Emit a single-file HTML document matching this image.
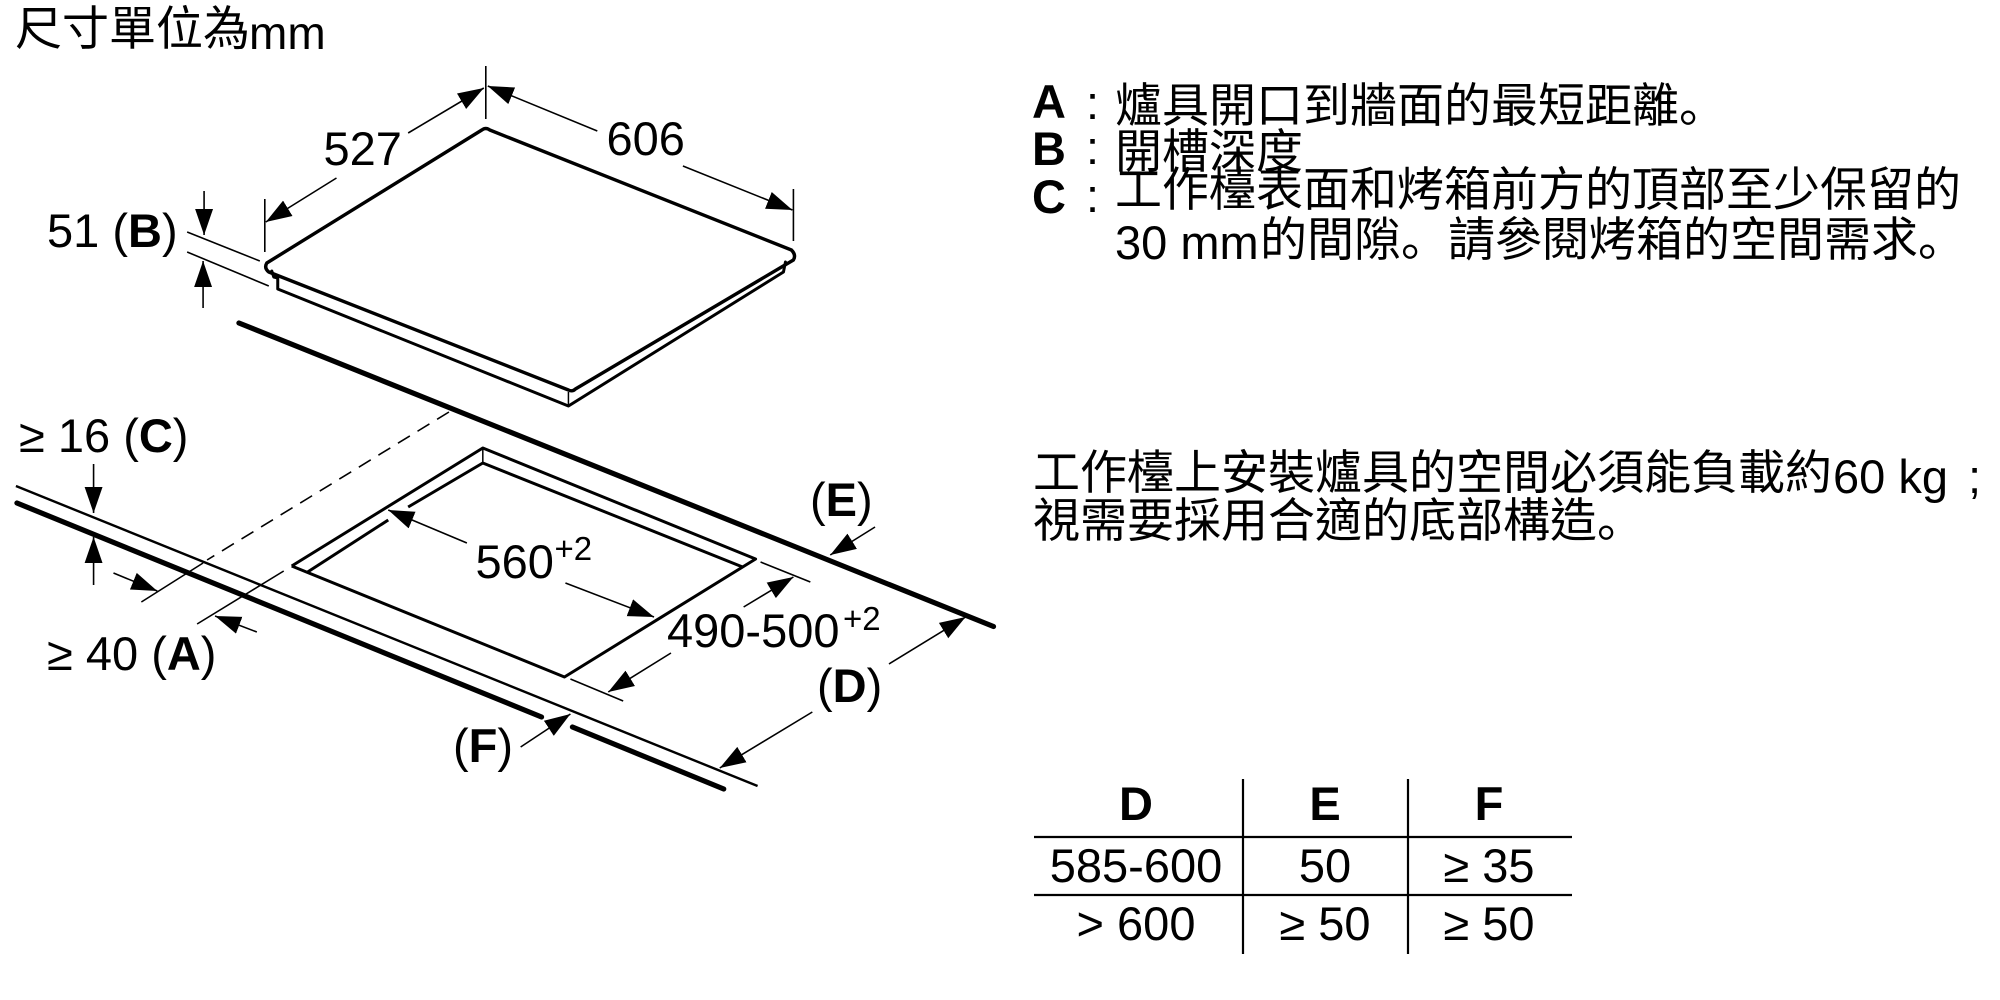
<!DOCTYPE html>
<html>
<head>
<meta charset="utf-8">
<title>尺寸單位為mm</title>
<style>
html,body{margin:0;padding:0;background:#fff;width:2000px;height:1000px;overflow:hidden}
svg{display:block}
text{font-family:"Liberation Sans","Noto Sans CJK TC",sans-serif;font-size:47px;fill:#000}
.c{font-family:"Noto Sans CJK TC","Liberation Sans",sans-serif;font-size:47px}
.p{font-family:"Noto Sans CJK SC","WenQuanYi Zen Hei",sans-serif}
.b{font-weight:bold}
.s{font-size:33px}
.m{text-anchor:middle}
.t line{fill:none;stroke:#000;stroke-width:1.6}
.a line{stroke:#000;stroke-width:1.6;marker-end:url(#ah)}
.h{fill:none;stroke:#000;stroke-width:3;stroke-linejoin:round;stroke-linecap:round}
</style>
</head>
<body>
<svg width="2000" height="1000" viewBox="0 0 2000 1000" xmlns="http://www.w3.org/2000/svg">
<defs>
<marker id="ah" markerUnits="userSpaceOnUse" markerWidth="27" markerHeight="20" refX="26" refY="10" orient="auto">
<polygon points="0,1 26,10 0,19" fill="#000"/>
</marker>
</defs>

<g transform="scale(0.9955 1)">
<!-- hob -->
<path class="h" d="M484,130 Q488,127 492,130 L795,250 Q800,255 797,260 L578,389 Q575,392 571,390 L270,272 Q265,268 268,263 Z" style="stroke-width:3.4"/>
<polyline class="h" points="273,271 275,277 279,278 279,289 571,406 787,272 789,262" style="stroke-width:3"/>
<line x1="571" y1="392" x2="571" y2="406" stroke="#000" stroke-width="1.5"/>

<!-- counter edges -->
<line x1="240" y1="323" x2="998" y2="626.5" stroke="#000" stroke-width="5.2" stroke-linecap="round"/>
<line x1="16" y1="486" x2="761" y2="786" stroke="#000" stroke-width="2.4"/>
<line x1="17" y1="503" x2="544" y2="717" stroke="#000" stroke-width="5.2" stroke-linecap="round"/>
<line x1="575" y1="727" x2="727" y2="789" stroke="#000" stroke-width="5.2" stroke-linecap="round"/>

<!-- cutout -->
<polyline class="h" points="293,566 485,448 759,559 567,677 293,566" style="stroke-width:3;stroke-linecap:butt"/>
<polyline class="h" points="746,567 485,463 410,507" style="stroke-width:3;stroke-linecap:butt"/>
<line x1="390" y1="520" x2="309" y2="572" stroke="#000" stroke-width="3"/>
<line x1="485" y1="448" x2="485" y2="463" stroke="#000" stroke-width="1.5"/>

<!-- thin extension lines -->
<g class="t">
<line x1="488" y1="66" x2="488" y2="119"/>
<line x1="797" y1="189" x2="797" y2="241"/>
<line x1="266" y1="199" x2="266" y2="252"/>
<line x1="188" y1="232" x2="261" y2="261"/>
<line x1="188" y1="252" x2="270" y2="286"/>
<line x1="204" y1="563" x2="142" y2="602"/>
<line x1="285" y1="571" x2="198" y2="624"/>
<line x1="764" y1="562" x2="814" y2="582"/>
<line x1="573" y1="679" x2="626" y2="701"/>
<line x1="451" y1="412" x2="208" y2="560" stroke-dasharray="14 9"/>
</g>

<!-- arrows -->
<g class="a">
<line x1="410" y1="133" x2="486" y2="88"/>
<line x1="338" y1="178" x2="267" y2="222"/>
<line x1="600" y1="131" x2="490" y2="86"/>
<line x1="686" y1="166" x2="796" y2="210"/>
<line x1="205" y1="191" x2="205" y2="235"/>
<line x1="204" y1="308" x2="204" y2="261"/>
<line x1="469" y1="543" x2="390" y2="510"/>
<line x1="568" y1="583" x2="657" y2="617"/>
<line x1="747" y1="607" x2="797" y2="577"/>
<line x1="674" y1="653" x2="611" y2="692"/>
<line x1="893" y1="664" x2="970" y2="617"/>
<line x1="816" y1="712" x2="723" y2="768"/>
<line x1="879" y1="527" x2="834" y2="555"/>
<line x1="523" y1="747" x2="573" y2="714"/>
<line x1="94" y1="464" x2="94" y2="513"/>
<line x1="94" y1="585" x2="94" y2="537"/>
<line x1="114" y1="573" x2="158" y2="591"/>
<line x1="258" y1="632" x2="216" y2="616"/>
</g>
</g>

<!-- diagram labels -->
<text class="c" lang="zh-TW" x="15" y="45">尺寸單位為</text>
<text x="249" y="49" style="font-size:46px">mm</text>
<text x="323.5" y="165">527</text>
<text x="606.5" y="155">606</text>
<text x="47" y="247">51 (<tspan class="b">B</tspan>)</text>
<text x="19" y="452">≥ 16 (<tspan class="b">C</tspan>)</text>
<text x="47" y="670">≥ 40 (<tspan class="b">A</tspan>)</text>
<text x="475.5" y="578">560</text>
<text class="s" x="554.5" y="560">+2</text>
<text x="667" y="647">490-500</text>
<text class="s" x="843" y="630">+2</text>
<text x="810" y="516">(<tspan class="b">E</tspan>)</text>
<text x="817" y="702">(<tspan class="b">D</tspan>)</text>
<text x="453" y="762">(<tspan class="b">F</tspan>)</text>

<!-- notes -->
<text class="b" x="1032" y="118">A</text><text x="1086" y="119">:</text>
<text class="c" lang="zh-TW" x="1115" y="122">爐具開口到牆面的最短距離<tspan class="p" lang="zh-CN">。</tspan></text>
<text class="b" x="1032" y="165">B</text><text x="1086" y="164">:</text>
<text class="c" lang="zh-TW" x="1115" y="168">開槽深度</text>
<text class="b" x="1032" y="213">C</text><text x="1086" y="212">:</text>
<text class="c" lang="zh-TW" x="1115" y="206">工作檯表面和烤箱前方的頂部至少保留的</text>
<text x="1115" y="259">30 mm</text>
<text class="c" lang="zh-TW" x="1260" y="256">的間隙<tspan class="p" lang="zh-CN">。</tspan>請參閱烤箱的空間需求<tspan class="p" lang="zh-CN">。</tspan></text>

<text class="c" lang="zh-TW" x="1033" y="489">工作檯上安裝爐具的空間必須能負載約</text>
<text x="1833" y="493">60 kg <tspan dx="7">;</tspan></text>
<text class="c" lang="zh-TW" x="1033" y="537">視需要採用合適的底部構造<tspan class="p" lang="zh-CN">。</tspan></text>

<!-- table -->
<g stroke="#000" stroke-width="2.2">
<line x1="1243" y1="779" x2="1243" y2="954"/>
<line x1="1408" y1="779" x2="1408" y2="954"/>
<line x1="1034" y1="837" x2="1572" y2="837"/>
<line x1="1034" y1="895" x2="1572" y2="895"/>
</g>
<text class="b m" x="1136" y="820">D</text>
<text class="b m" x="1325" y="820">E</text>
<text class="b m" x="1489" y="820">F</text>
<text class="m" x="1136" y="882">585-600</text>
<text class="m" x="1325" y="882">50</text>
<text class="m" x="1489" y="882">≥ 35</text>
<text class="m" x="1136" y="940">&gt; 600</text>
<text class="m" x="1325" y="940">≥ 50</text>
<text class="m" x="1489" y="940">≥ 50</text>
</svg>
</body>
</html>
